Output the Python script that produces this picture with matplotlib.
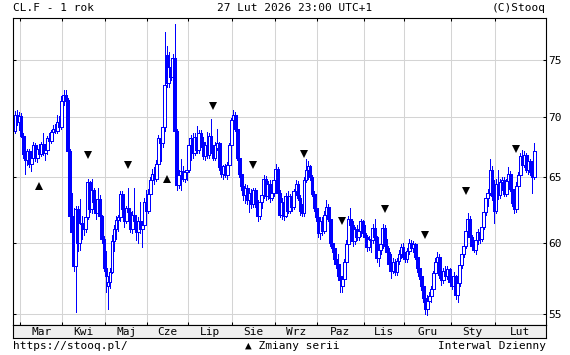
#!/usr/bin/env python3
"""
CL.F - 1 rok, wykres świecowy w stylu stooq
"""

import numpy as np
import pandas as pd
import matplotlib
matplotlib.use('Agg')
import matplotlib.pyplot as plt

plt.rcParams['font.family'] = ['DejaVu Sans Mono', 'DejaVu Sans']

# dni sesyjne (dni robocze bez kilku świąt w USA)
missing_days = ['2025-04-18', '2025-05-26', '2025-06-19', '2025-07-04', '2025-09-01']
month_names = ['Sty', 'Lut', 'Mar', 'Kwi', 'Maj', 'Cze', 'Lip', 'Sie', 'Wrz', 'Paz', 'Lis', 'Gru']

opens = [
    68.8, 70.2, 69.6, 70.1, 68.4, 66.9, 66.4, 67.1, 66.1, 66.6, 67.6, 66.6, 67.3, 66.9, 67.7, 67.0,
    67.2, 68.2, 68.0, 68.7, 69.0, 68.8, 69.6, 69.1, 71.4, 71.9, 71.5, 67.1, 62.0, 60.8, 58.3, 62.5,
    60.0, 61.5, 61.4, 61.0, 61.9, 64.6, 62.5, 64.0, 63.1, 62.2, 63.3, 62.0, 60.3, 58.2, 56.9, 57.2,
    57.9, 60.1, 61.0, 61.7, 61.9, 63.7, 62.5, 61.6, 62.6, 62.3, 61.0, 62.1, 61.6, 60.8, 61.6, 61.0,
    61.3, 63.1, 62.4, 63.7, 64.8, 65.3, 64.9, 66.1, 68.2, 67.8, 69.1, 75.5, 73.0, 74.4, 73.5, 75.2,
    68.8, 64.4, 65.2, 65.5, 64.9, 65.4, 65.6, 67.6, 68.2, 67.0, 68.3, 67.2, 68.6, 67.9, 66.7, 67.6,
    66.8, 68.4, 67.3, 66.6, 67.4, 67.8, 65.8, 65.3, 65.9, 65.2, 66.0, 67.6, 69.7, 70.2, 69.0, 66.6,
    65.3, 64.3, 63.6, 64.2, 63.2, 63.8, 62.9, 64.0, 63.0, 62.0, 63.1, 63.6, 64.9, 63.5, 64.5, 63.4,
    63.8, 64.8, 65.7, 63.8, 62.1, 63.1, 62.0, 63.5, 62.4, 63.5, 62.7, 63.9, 64.5, 63.4, 62.4, 62.2,
    64.8, 65.6, 65.9, 65.0, 63.7, 62.6, 61.9, 60.7, 61.6, 60.9, 62.1, 62.7, 61.8, 60.0, 59.6, 58.8,
    58.5, 57.6, 56.9, 57.4, 58.6, 59.9, 61.8, 61.3, 60.1, 61.0, 60.4, 60.9, 61.6, 60.7, 60.4, 59.7,
    60.3, 60.2, 61.1, 60.4, 58.9, 59.5, 59.9, 61.1, 59.8, 59.3, 58.5, 58.0, 58.6, 57.9, 58.7, 59.2,
    59.7, 59.0, 58.8, 59.4, 60.0, 59.6, 59.9, 59.0, 58.2, 57.6, 56.9, 56.1, 55.3, 55.9, 56.2, 56.7,
    57.8, 58.6, 59.0, 57.7, 57.3, 58.0, 57.6, 58.1, 57.2, 56.9, 57.6, 56.3, 57.1, 58.4, 59.2, 59.8,
    60.9, 61.8, 60.4, 59.8, 59.5, 60.2, 60.8, 60.3, 61.2, 62.3, 63.4, 63.8, 65.6, 63.5, 62.4, 64.5,
    63.6, 64.6, 64.8, 63.7, 64.7, 65.3, 64.1, 63.0, 62.5, 64.3, 65.2, 66.7, 66.0, 66.8, 65.6, 66.3,
    65.4, 65.0,
]
highs = [
    70.5, 70.6, 70.4, 70.3, 68.6, 67.6, 67.3, 67.3, 67.0, 67.9, 67.8, 67.5, 67.7, 67.9, 68.6, 67.4,
    68.4, 68.6, 68.9, 69.3, 69.4, 70.2, 70.1, 71.8, 72.3, 72.3, 71.6, 67.3, 63.8, 62.6, 62.8, 62.8,
    63.3, 62.0, 61.9, 62.2, 64.9, 64.7, 64.9, 64.2, 63.3, 64.2, 63.6, 62.1, 60.5, 59.4, 57.6, 58.2,
    60.6, 61.3, 62.0, 62.1, 63.9, 63.9, 63.3, 62.8, 64.2, 62.6, 62.4, 64.2, 61.8, 61.9, 63.1, 61.6,
    63.4, 64.0, 64.1, 65.0, 65.7, 65.8, 66.4, 68.5, 68.6, 69.4, 77.7, 76.3, 75.8, 74.9, 75.6, 78.4,
    69.0, 65.6, 66.5, 65.9, 65.6, 65.9, 67.8, 68.5, 68.6, 68.6, 69.2, 68.9, 68.9, 68.3, 67.9, 68.7,
    68.6, 69.8, 67.6, 67.9, 69.0, 67.9, 66.5, 66.0, 66.1, 66.2, 67.8, 69.9, 70.6, 70.4, 69.3, 67.0,
    66.5, 64.9, 64.5, 64.4, 64.0, 64.1, 64.2, 64.2, 63.2, 63.4, 63.8, 65.2, 65.1, 64.7, 64.8, 64.6,
    65.0, 66.1, 65.8, 64.0, 63.4, 63.3, 63.8, 63.9, 63.7, 63.7, 64.1, 64.8, 64.7, 63.6, 62.9, 65.0,
    66.5, 66.3, 66.0, 65.2, 63.9, 62.9, 62.1, 61.9, 61.9, 62.4, 63.2, 62.9, 62.0, 60.2, 59.9, 59.3,
    59.2, 57.9, 57.5, 58.8, 60.2, 62.0, 62.6, 61.6, 61.2, 61.3, 61.1, 61.8, 61.7, 61.3, 60.6, 60.5,
    60.4, 61.4, 61.8, 60.5, 59.8, 60.1, 61.4, 61.3, 60.3, 59.6, 59.2, 58.9, 58.8, 58.9, 59.5, 59.9,
    60.0, 59.3, 59.6, 60.3, 60.2, 60.1, 60.0, 59.2, 58.6, 57.8, 57.1, 56.3, 56.3, 56.5, 56.9, 58.0,
    58.9, 59.3, 59.2, 58.2, 58.2, 58.3, 58.3, 58.2, 57.5, 57.9, 57.7, 57.3, 58.6, 59.4, 60.1, 61.1,
    62.2, 62.0, 60.6, 60.2, 60.4, 61.0, 61.2, 61.4, 62.6, 63.6, 64.1, 66.5, 65.9, 64.8, 64.9, 65.6,
    64.9, 65.0, 65.0, 64.9, 65.8, 65.5, 64.4, 63.6, 64.6, 65.4, 67.0, 67.2, 67.1, 67.0, 66.6, 66.5,
    65.9, 67.8,
]
lows = [
    68.6, 69.3, 68.9, 68.3, 66.6, 65.3, 66.0, 65.8, 65.5, 66.3, 66.3, 66.2, 66.6, 66.7, 66.8, 66.4,
    66.9, 67.5, 67.8, 68.4, 68.6, 68.6, 68.9, 69.0, 71.0, 71.1, 67.0, 61.8, 58.5, 58.0, 55.1, 59.4,
    59.5, 60.3, 60.6, 60.8, 61.8, 62.3, 62.2, 62.8, 61.8, 62.0, 61.7, 60.0, 58.0, 56.5, 55.3, 56.8,
    57.8, 59.4, 60.3, 60.9, 61.6, 62.2, 61.2, 61.5, 62.0, 60.8, 60.7, 61.4, 60.2, 60.0, 60.7, 59.7,
    61.0, 62.0, 62.2, 63.3, 64.4, 64.5, 64.7, 65.9, 66.3, 67.5, 68.8, 72.6, 72.6, 73.2, 73.3, 68.5,
    64.0, 64.2, 64.0, 64.7, 64.6, 64.8, 65.4, 66.4, 66.6, 66.8, 67.0, 67.0, 67.5, 66.5, 66.4, 66.6,
    66.6, 67.0, 66.4, 66.4, 67.2, 65.6, 65.0, 64.9, 65.0, 64.9, 65.8, 67.4, 69.0, 68.8, 66.4, 65.0,
    64.0, 63.2, 63.0, 62.9, 62.3, 62.6, 62.7, 62.7, 61.6, 61.8, 62.6, 63.4, 63.2, 63.3, 63.1, 63.2,
    63.5, 64.3, 63.6, 61.9, 61.8, 61.7, 61.9, 62.2, 62.2, 62.4, 62.5, 63.6, 63.2, 62.1, 62.0, 62.0,
    64.6, 64.9, 64.8, 63.5, 62.4, 61.6, 60.4, 60.3, 60.6, 60.7, 61.5, 61.6, 59.8, 59.3, 58.5, 58.2,
    57.3, 56.5, 56.5, 57.2, 58.4, 59.7, 61.0, 59.8, 59.9, 60.2, 60.2, 60.5, 60.4, 60.2, 59.4, 59.5,
    59.3, 60.0, 60.2, 58.6, 58.3, 59.2, 59.6, 59.6, 59.1, 58.2, 57.5, 57.8, 57.7, 57.7, 58.5, 58.9,
    58.8, 58.6, 58.6, 59.2, 59.4, 59.3, 58.8, 57.9, 57.4, 56.6, 55.8, 55.0, 54.9, 55.4, 55.8, 56.5,
    57.6, 58.3, 57.5, 57.0, 57.1, 57.4, 57.4, 56.9, 56.7, 56.8, 56.0, 55.8, 56.9, 58.2, 59.0, 59.6,
    60.6, 60.2, 59.5, 59.3, 59.2, 59.9, 60.0, 60.1, 61.0, 62.1, 62.8, 63.6, 63.2, 61.5, 62.2, 63.3,
    63.4, 64.0, 63.5, 63.5, 64.4, 63.9, 62.8, 62.2, 62.3, 64.0, 65.0, 65.8, 65.8, 65.4, 65.3, 65.2,
    63.8, 64.9,
]
closes = [
    70.2, 69.6, 70.1, 68.4, 66.9, 66.4, 67.1, 66.1, 66.6, 67.6, 66.6, 67.3, 66.9, 67.7, 67.0, 67.2,
    68.2, 68.0, 68.7, 69.0, 68.8, 69.6, 69.1, 71.4, 71.9, 71.5, 67.1, 62.0, 60.8, 58.3, 62.5, 60.0,
    61.5, 61.4, 61.0, 61.9, 64.6, 62.5, 64.0, 63.1, 62.2, 63.3, 62.0, 60.3, 58.2, 57.6, 57.2, 57.9,
    60.1, 61.0, 61.7, 61.9, 63.7, 62.5, 61.6, 62.6, 62.3, 61.0, 62.1, 61.6, 60.8, 61.6, 61.0, 61.3,
    63.1, 62.4, 63.7, 64.8, 65.3, 64.9, 66.1, 68.2, 67.8, 69.1, 72.8, 73.0, 74.4, 73.5, 75.2, 68.8,
    64.4, 65.2, 65.5, 64.9, 65.4, 65.6, 67.6, 68.2, 67.0, 68.3, 67.2, 68.6, 67.9, 66.7, 67.6, 66.8,
    68.4, 67.3, 66.6, 67.6, 67.8, 65.8, 65.3, 65.9, 65.2, 66.0, 67.6, 69.7, 70.2, 69.0, 66.6, 65.3,
    64.3, 63.6, 64.2, 63.2, 63.8, 62.9, 64.0, 63.0, 62.0, 63.1, 63.6, 64.9, 63.5, 64.5, 63.4, 63.8,
    64.8, 65.7, 63.8, 62.1, 63.1, 62.0, 63.5, 62.4, 63.5, 62.7, 63.9, 64.5, 63.4, 62.4, 62.2, 64.8,
    65.6, 65.9, 65.0, 63.7, 62.6, 61.9, 60.7, 61.6, 60.9, 62.1, 62.7, 61.8, 60.0, 59.6, 58.8, 58.5,
    57.6, 57.3, 57.4, 58.6, 59.9, 61.8, 61.3, 60.1, 61.0, 60.4, 60.9, 61.6, 60.7, 60.4, 59.7, 60.3,
    60.2, 61.1, 60.4, 58.9, 59.5, 59.9, 61.1, 59.8, 59.3, 58.5, 58.0, 58.6, 57.9, 58.7, 59.2, 59.7,
    59.0, 58.8, 59.4, 60.0, 59.6, 59.9, 59.0, 58.2, 57.6, 56.9, 56.1, 55.3, 55.9, 56.2, 56.7, 57.8,
    58.6, 59.0, 57.7, 57.3, 58.0, 57.6, 58.1, 57.2, 56.9, 57.6, 56.3, 57.1, 58.4, 59.2, 59.8, 60.9,
    61.8, 60.4, 59.8, 59.5, 60.2, 60.8, 60.3, 61.2, 62.3, 63.4, 63.8, 65.6, 63.5, 62.4, 64.5, 63.6,
    64.6, 64.8, 63.7, 64.7, 65.3, 64.1, 63.0, 62.5, 64.3, 65.2, 66.7, 66.0, 66.8, 65.6, 66.3, 65.4,
    65.0, 67.1,
]

# zmiany serii (indeks sesji, poziom znacznika, kierunek)
roll_index = [12, 36, 56, 75, 98, 118, 143, 162, 183, 203, 223, 248]
roll_level = [64.3, 66.8, 66.0, 64.9, 70.9, 66.0, 66.9, 61.6, 62.5, 60.6, 63.9, 67.3]
roll_up = [True, False, False, True, False, False, False, False, False, False, False, False]

y_ticks = [55, 60, 65, 70, 75]


def px_x(v):
    return v / 570.0


def px_y(v):
    return 1 - v / 355.0


def main():
    dates = pd.bdate_range('2025-02-26', '2026-02-27')
    dates = dates[~dates.isin(pd.to_datetime(missing_days))]
    n = len(dates)
    x = np.arange(n)
    o = np.array(opens)
    h = np.array(highs)
    l = np.array(lows)
    c = np.array(closes)

    fig = plt.figure(figsize=(5.7, 3.55), dpi=100)
    ax = fig.add_axes([px_x(12.5), px_y(325), px_x(533), 307 / 355.0])
    strip = fig.add_axes([px_x(12.5), px_y(337.5), px_x(533), 12.5 / 355.0])

    xmin, xmax = -1.24, 262.5

    # świece: knoty, potem korpusy (puste = wzrost, pełne = spadek)
    ax.vlines(x, l, h, color='#0000ff', lw=0.72, zorder=2, antialiased=False)
    up = c >= o
    bottoms = np.minimum(o, c)
    heights = np.maximum(np.abs(c - o), 0.02)
    faces = np.where(up, 'white', '#0000ff')
    ax.bar(x, heights, width=1.4, bottom=bottoms, color=faces,
           edgecolor='#0000ff', linewidth=0.72, zorder=3, antialiased=False)

    # znaczniki zmian serii
    for i, lev, is_up in zip(roll_index, roll_level, roll_up):
        ax.plot(i, lev, marker='^' if is_up else 'v', color='black',
                ms=5.5, mew=0, zorder=4)

    ax.set_yscale('log')
    ax.set_ylim(54.26, 79.0)
    ax.set_xlim(xmin, xmax)
    ax.set_yticks(y_ticks)
    ax.set_yticklabels([str(t) for t in y_ticks])
    ax.yaxis.set_minor_locator(matplotlib.ticker.NullLocator())

    # granice miesięcy
    months = dates.month.values
    starts = [i for i in range(1, n) if months[i] != months[i - 1]]
    bounds = [s - 0.5 for s in starts]
    ax.set_xticks(bounds)
    ax.set_xticklabels([])

    ax.grid(True, color='#d4d4d4', lw=0.75)
    ax.set_axisbelow(True)
    ax.tick_params(axis='y', direction='in', length=2.5, width=0.75,
                   left=True, right=True, labelleft=False, labelright=True,
                   labelsize=8, pad=2)
    ax.tick_params(axis='x', direction='in', length=2.5, width=0.75,
                   top=True, bottom=True)
    for s in ax.spines.values():
        s.set_linewidth(0.8)

    # pasek z nazwami miesięcy
    strip.set_facecolor('#efefef')
    strip.set_xlim(xmin, xmax)
    strip.set_ylim(0, 1)
    strip.set_xticks([])
    strip.set_yticks([])
    for s in strip.spines.values():
        s.set_linewidth(0.8)
    edges = bounds + [xmax]
    for k, b in enumerate(bounds):
        mid = (b + edges[k + 1]) / 2
        strip.text(mid, 0.45, month_names[months[starts[k]] - 1],
                   ha='center', va='center', fontsize=8)

    # napisy
    fig.text(px_x(13), px_y(8), 'CL.F - 1 rok', ha='left', va='center', fontsize=8)
    fig.text(px_x(294.5), px_y(8), '27 Lut 2026 23:00 UTC+1', ha='center', va='center', fontsize=8)
    fig.text(px_x(546), px_y(8), '(C)Stooq', ha='right', va='center', fontsize=8)
    fig.text(px_x(13), px_y(346), 'https://stooq.pl/', ha='left', va='center', fontsize=8)
    fig.text(px_x(292), px_y(346), '▲ Zmiany serii', ha='center', va='center', fontsize=8)
    fig.text(px_x(546), px_y(346), 'Interwal Dzienny', ha='right', va='center', fontsize=8)

    fig.savefig('out.png', dpi=100)


if __name__ == "__main__":
    main()
